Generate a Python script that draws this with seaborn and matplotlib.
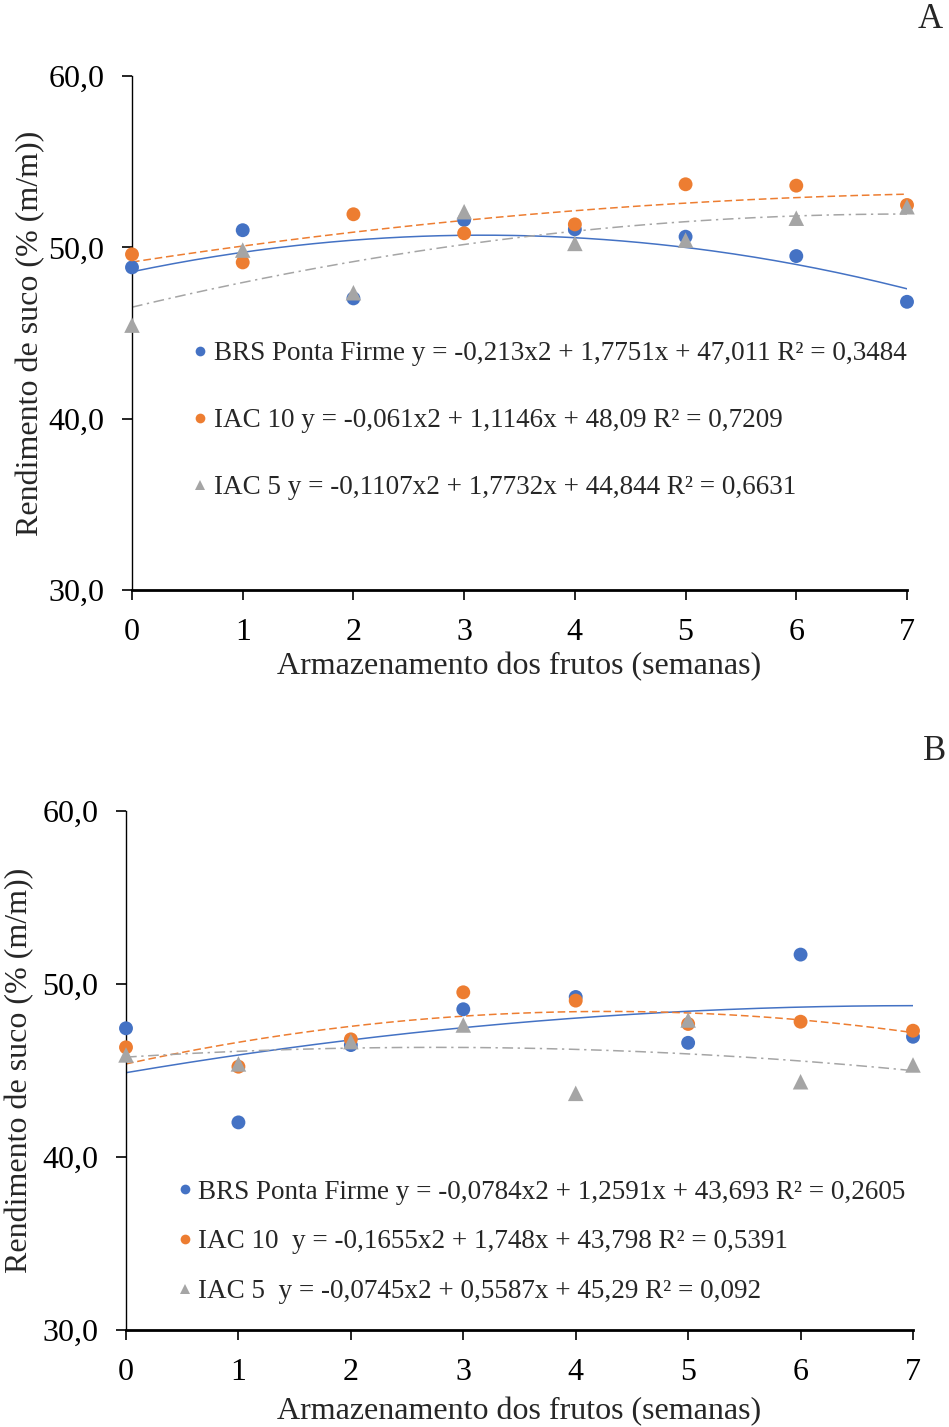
import numpy as np
import pandas as pd
import matplotlib
matplotlib.use("Agg")
import matplotlib.pyplot as plt
import seaborn as sns
from matplotlib.lines import Line2D

sns.set_theme(style="white")
plt.rcParams['font.family'] = ['Liberation Serif', 'DejaVu Serif']

weeks = [0, 1, 2, 3, 4, 5, 6, 7]
series_names = ["BRS Ponta Firme", "IAC 10", "IAC 5"]

# Panel A
a_brs = [48.83, 51.0, 47.02, 51.6, 51.05, 50.62, 49.49, 46.82]
a_iac10 = [49.59, 49.12, 51.93, 50.82, 51.34, 53.68, 53.6, 52.47]
a_iac5 = [45.46, 49.84, 47.35, 52.08, 50.23, 50.42, 51.7, 52.37]
a_coefs = [(-0.213, 1.7751, 47.011), (-0.061, 1.1146, 48.09), (-0.1107, 1.7732, 44.844)]
a_labels = ["BRS Ponta Firme y = -0,213x2 + 1,7751x + 47,011 R² = 0,3484",
            "IAC 10 y = -0,061x2 + 1,1146x + 48,09 R² = 0,7209",
            "IAC 5 y = -0,1107x2 + 1,7732x + 44,844 R² = 0,6631"]

# Panel B
b_brs = [47.44, 42.0, 46.47, 48.54, 49.25, 46.6, 51.7, 46.95]
b_iac10 = [46.34, 45.22, 46.8, 49.52, 49.04, 47.69, 47.82, 47.3]
b_iac5 = [45.9, 45.38, 46.67, 47.63, 43.68, 47.92, 44.35, 45.32]
b_coefs = [(-0.0784, 1.2591, 43.693), (-0.1655, 1.748, 43.798), (-0.0745, 0.5587, 45.29)]
b_labels = ["BRS Ponta Firme y = -0,0784x2 + 1,2591x + 43,693 R² = 0,2605",
            "IAC 10  y = -0,1655x2 + 1,748x + 43,798 R² = 0,5391",
            "IAC 5  y = -0,0745x2 + 0,5587x + 45,29 R² = 0,092"]

y_ticks = [30, 40, 50, 60]
y_ticklabels = ["30,0", "40,0", "50,0", "60,0"]

colors = ["#4472C4", "#ED7D31", "#A5A5A5"]
markers = ["o", "o", "^"]
styles = ["-", (0, (5, 2.5)), (0, (7, 3, 1.5, 3))]

fig = plt.figure(figsize=(9.49, 14.27), dpi=100)
axA = fig.add_axes([132/949, 1-590/1427, 775/949, 514/1427])
axB = fig.add_axes([126/949, 1-1330/1427, 787/949, 519/1427])


def draw(ax, data, coefs, labels, legend_x, legend_y, labelspacing, xlabelpad, ylabelpad):
    xs = np.linspace(0, 7, 300)
    for i, (vals, (a, b, c)) in enumerate(zip(data, coefs)):
        xe = xs + 1
        sns.lineplot(x=xs, y=a*xe**2 + b*xe + c, ax=ax, color=colors[i],
                     linestyle=styles[i], linewidth=1.1, zorder=2)
    for i, vals in enumerate(data):
        df = pd.DataFrame({"x": weeks, "y": vals})
        sns.scatterplot(data=df, x="x", y="y", ax=ax, color=colors[i],
                        marker=markers[i], s=100 if markers[i] == "o" else 125,
                        edgecolor="none", zorder=3, clip_on=False)
    ax.set_xlim(0, 7)
    ax.set_ylim(30, 60)
    ax.set_xticks(weeks)
    ax.set_xticklabels([str(w) for w in weeks], fontsize=23)
    ax.set_yticks(y_ticks)
    ax.set_yticklabels(y_ticklabels, fontsize=23)
    for s in ["top", "right"]:
        ax.spines[s].set_visible(False)
    ax.spines["left"].set_color("black")
    ax.spines["left"].set_linewidth(1.0)
    ax.spines["bottom"].set_color("black")
    ax.spines["bottom"].set_linewidth(2.0)
    ax.tick_params(axis="both", direction="out", length=7, width=1.2,
                   colors="black", pad=13)
    ax.tick_params(axis="y", left=True)
    ax.tick_params(axis="x", bottom=True)
    ax.set_xlabel("Armazenamento dos frutos (semanas)", fontsize=23, labelpad=xlabelpad)
    ax.set_ylabel("Rendimento de suco (% (m/m))", fontsize=23, labelpad=ylabelpad)
    handles = [Line2D([], [], linestyle="none", marker=markers[i], color=colors[i],
                      markersize=7, markeredgewidth=0) for i in range(3)]
    ax.legend(handles, labels, loc="upper left", bbox_to_anchor=(legend_x, legend_y),
              frameon=False, fontsize=19.5, handletextpad=0.0, handlelength=1.0,
              labelspacing=labelspacing, borderpad=0)


draw(axA, [a_brs, a_iac10, a_iac5], a_coefs, a_labels, 0.053, 0.51, 1.55, 4, 2)
draw(axB, [b_brs, b_iac10, b_iac5], b_coefs, b_labels, 0.040, 0.316, 0.92, 7, 6)

fig.text(930/949, 1-20/1427, "A", fontsize=25, ha="center", va="center")
fig.text(935/949, 1-752/1427, "B", fontsize=25, ha="center", va="center")

fig.savefig("out.png", dpi=100, facecolor="white")
